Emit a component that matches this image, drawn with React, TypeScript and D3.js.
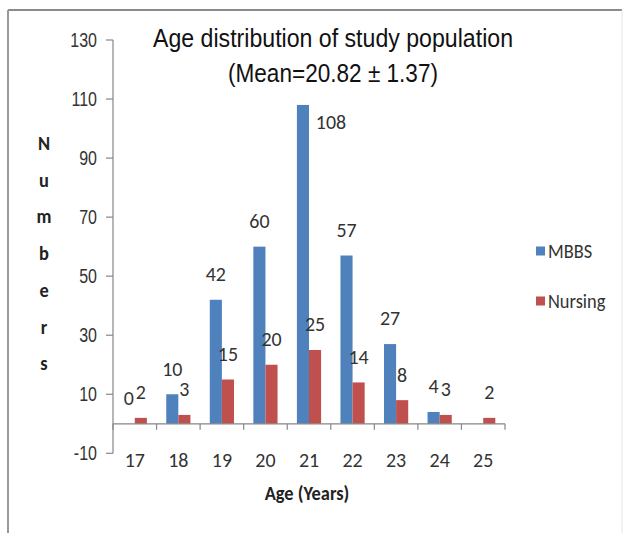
import React from "react";
import * as d3 from "d3";

const ages = ["17", "18", "19", "20", "21", "22", "23", "24", "25"];
const series = ["MBBS", "Nursing"];
const mbbs = [0, 10, 42, 60, 108, 57, 27, 4, 0];
const nursing = [2, 3, 15, 20, 25, 14, 8, 3, 2];
const showMbbsLabel = [true, true, true, true, true, true, true, true, false];
const yTicks = [-10, 10, 30, 50, 70, 90, 110, 130];
const colors = ["#4F81BD", "#C0504D"];
const titleLines = ["Age distribution of study population", "(Mean=20.82 \u00b1 1.37)"];
const yLabel = "Numbers";
const xLabel = "Age (Years)";

const narrow = "'Liberation Sans Narrow', 'Arial Narrow', 'Liberation Sans', sans-serif";
const calib = "Carlito, Lato, 'Open Sans', sans-serif";

type TProps = {
  x: number; y: number; sx?: number; anchor?: "start" | "middle" | "end";
  family: string; size: number; weight?: string; fill?: string; children: React.ReactNode;
};
function T({ x, y, sx = 1, anchor = "middle", family, size, weight = "normal", fill = "#333", children }: TProps) {
  return (
    <text transform={`translate(${x},${y}) scale(${sx},1)`} dy="0.35em" textAnchor={anchor}
      fontFamily={family} fontSize={size} fontWeight={weight} fill={fill}>{children}</text>
  );
}

export default function App() {
  const x = d3.scaleBand<string>().domain(ages).range([113, 505]).paddingInner(0).paddingOuter(0);
  const xi = d3.scaleBand<string>().domain(series).range([0, x.bandwidth()]).paddingOuter(0.8).paddingInner(0);
  const y = d3.scaleLinear().domain([-10, 130]).range([453.3, 40]);
  const data = [mbbs, nursing];
  const maxM = d3.max(mbbs) as number;
  const boundaries = ages.map((a) => x(a) as number).concat([x.range()[1]]);

  return (
    <svg width={627} height={533} style={{ position: "absolute", left: 0, top: 0, background: "#fff" }}>
      <rect x={0} y={0} width={627} height={533} fill="#fff" />
      {/* frame */}
      <line x1={8} x2={622} y1={10} y2={10} stroke="#8a8a8a" strokeWidth={2} />
      <line x1={8} x2={8} y1={10} y2={533} stroke="#9a9a9a" strokeWidth={2} />
      <line x1={622} x2={622} y1={10} y2={533} stroke="#e4e4e4" strokeWidth={1} />

      {/* title */}
      <text x={333} y={47} textAnchor="middle" fontFamily={narrow} fontSize={25} fill="#111"
        textLength={360} lengthAdjust="spacingAndGlyphs">{titleLines[0]}</text>
      <text x={333} y={82} textAnchor="middle" fontFamily={narrow} fontSize={25} fill="#111"
        textLength={210} lengthAdjust="spacingAndGlyphs">{titleLines[1]}</text>

      {/* y axis */}
      <line x1={113} x2={113} y1={y(130)} y2={y(-10)} stroke="#868686" strokeWidth={1.2} />
      {yTicks.map((t) => (
        <g key={t}>
          <line x1={106} x2={113} y1={y(t)} y2={y(t)} stroke="#868686" strokeWidth={1.2} />
          <T x={97} y={y(t)} sx={0.8} anchor="end" family={narrow} size={20}>{t}</T>
        </g>
      ))}
      {/* y label stacked */}
      {yLabel.split("").map((c, i) => (
        <T key={i} x={44} y={143 + i * 36.7} sx={0.92} family={calib} weight="bold" size={20} fill="#222">{c}</T>
      ))}

      {/* bars */}
      {data.map((vals, si) =>
        vals.map((v, i) => {
          const bx = (x(ages[i]) as number) + (xi(series[si]) as number);
          const y0 = y(0);
          const yv = y(v);
          return (
            <rect key={`${si}-${i}`} x={bx} y={Math.min(y0, yv)} width={xi.bandwidth()} height={Math.abs(y0 - yv)} fill={colors[si]} />
          );
        })
      )}

      {/* x axis */}
      <line x1={113} x2={505} y1={y(0)} y2={y(0)} stroke="#868686" strokeWidth={1.2} />
      {boundaries.map((b, i) => (
        <line key={i} x1={b} x2={b} y1={y(0)} y2={y(0) + 6} stroke="#868686" strokeWidth={1.2} />
      ))}
      {ages.map((a) => (
        <T key={a} x={(x(a) as number) + x.bandwidth() / 2} y={460} sx={0.95} family={calib} size={21}>{a}</T>
      ))}
      <T x={307} y={493} sx={0.92} family={calib} weight="bold" size={20} fill="#222">{xLabel}</T>

      {/* value labels */}
      {data.map((vals, si) =>
        vals.map((v, i) => {
          if (si === 0 && !showMbbsLabel[i]) return null;
          const cx = (x(ages[i]) as number) + (xi(series[si]) as number) + xi.bandwidth() / 2;
          const isMax = si === 0 && v === maxM;
          const lx = isMax ? cx + 28 : cx;
          const ly = isMax ? y(v) + 17 : y(v) - 26;
          return (
            <T key={`l${si}-${i}`} x={lx} y={ly} sx={0.95} family={calib} size={21}>{v}</T>
          );
        })
      )}

      {/* legend */}
      {series.map((s, i) => (
        <g key={s}>
          <rect x={536} y={251 + i * 50 - 4.5} width={9} height={9} fill={colors[i]} />
          <T x={548} y={251 + i * 50} sx={0.92} anchor="start" family={calib} size={20}>{s}</T>
        </g>
      ))}
    </svg>
  );
}
